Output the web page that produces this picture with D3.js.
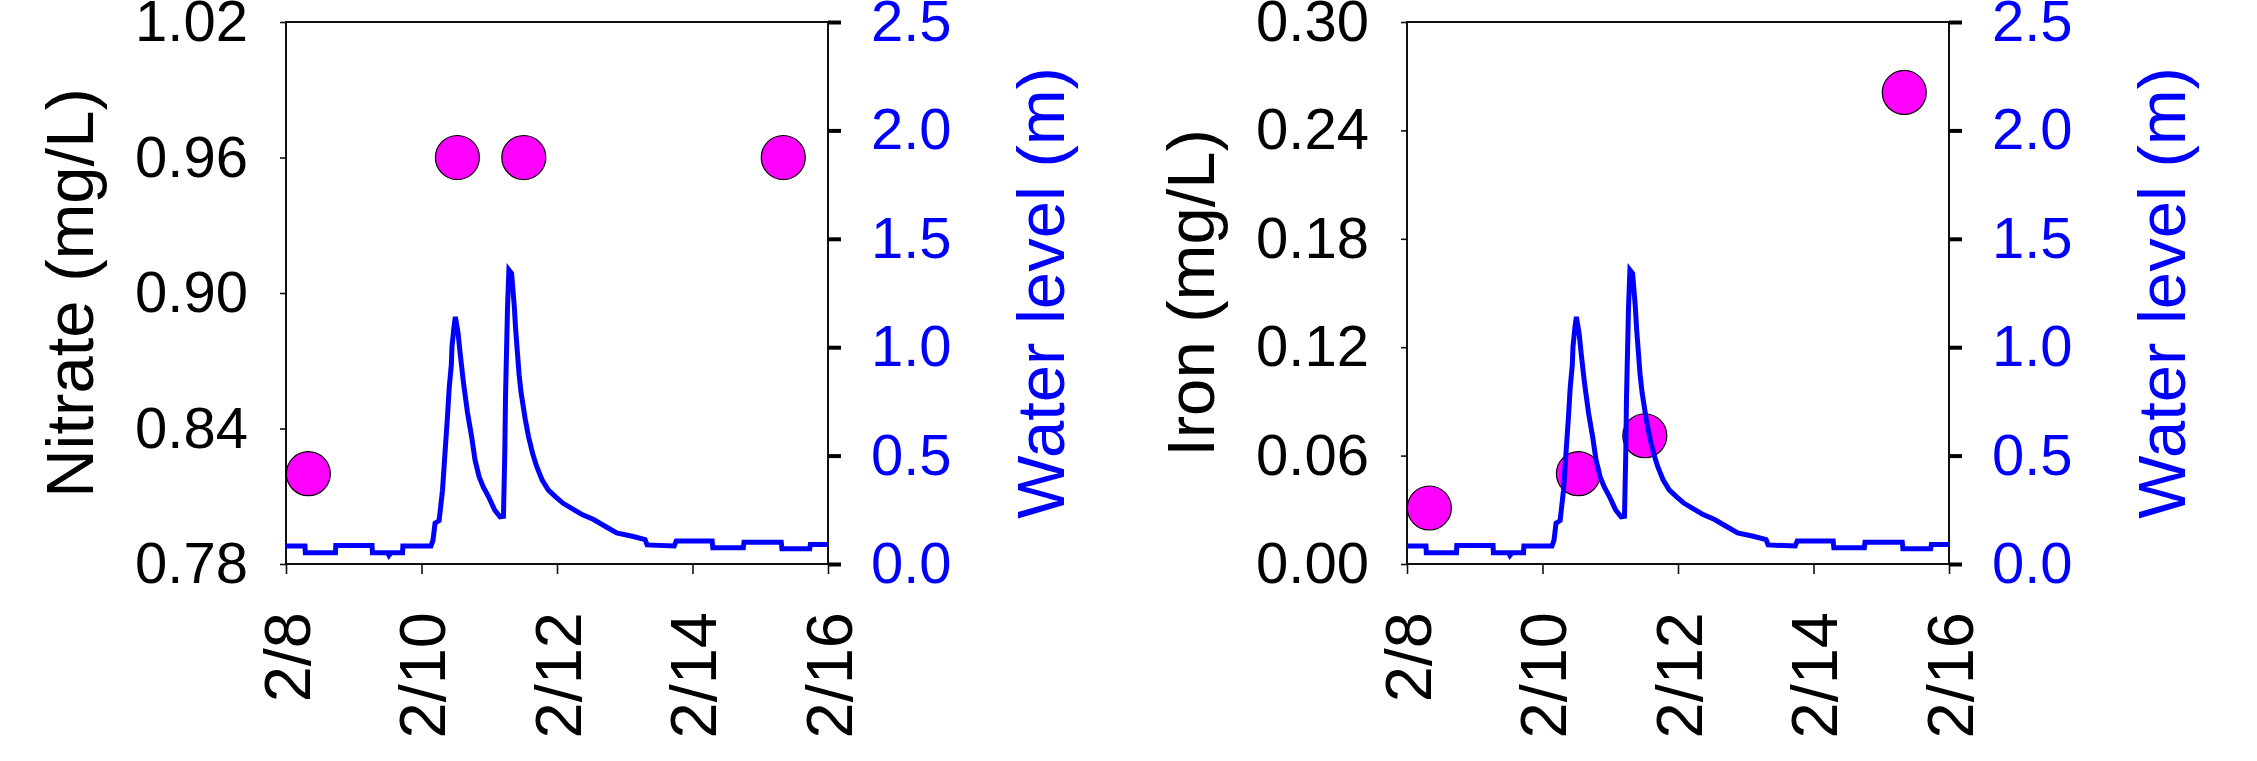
<!DOCTYPE html>
<html>
<head>
<meta charset="UTF-8">
<title>Nitrate / Iron vs water level</title>
<script src="https://d3js.org/d3.v7.min.js"></script>
<style>
  body { margin: 0; background: #fff; }
  svg { font-family: "Liberation Sans", Arial, sans-serif; }
  .frame { fill: none; stroke: #111; stroke-width: 2; }
  .axis path { display: none; }
  .axis line { stroke: #111; stroke-width: 1.6; }
  .axis.wl line { stroke: #000; stroke-width: 4; }
</style>
</head>
<body>
<svg id="chart" width="2257" height="761"></svg>
<script>
// ---- data ---------------------------------------------------------------
// x in days of February (8.5 = 2/8 noon)
var xTicks = [8, 10, 12, 14, 16];
var xTickLabels = ["2/8", "2/10", "2/12", "2/14", "2/16"];

var sampleDays = [8.33, 10.53, 11.51, 15.34];
var nitrate = [0.82, 0.96, 0.96, 0.96];
var iron = [0.031, 0.050, 0.071, 0.261];

var nitrateTicks = [0.78, 0.84, 0.90, 0.96, 1.02];
var ironTicks = [0.00, 0.06, 0.12, 0.18, 0.24, 0.30];
var levelTicks = [0.0, 0.5, 1.0, 1.5, 2.0, 2.5];

var levelDays = [8.00, 8.28, 8.285, 8.73, 8.735, 9.27, 9.275, 9.50, 9.52, 9.55, 9.72, 9.725,
  10.14, 10.17, 10.20, 10.26, 10.31, 10.35, 10.38, 10.41, 10.44, 10.45, 10.48, 10.50,
  10.54, 10.57, 10.62, 10.68, 10.74, 10.79, 10.85, 10.91, 10.99, 11.08, 11.16, 11.21,
  11.23, 11.24, 11.27, 11.29, 11.33, 11.37, 11.39, 11.44, 11.47, 11.53, 11.58, 11.64,
  11.70, 11.78, 11.87, 11.98, 12.09, 12.21, 12.37, 12.54, 12.71, 12.88, 13.11, 13.30,
  13.33, 13.73, 13.76, 14.29, 14.30, 14.75, 14.76, 15.31, 15.32, 15.73, 15.74, 16.00];
var levelM = [0.083, 0.083, 0.052, 0.052, 0.085, 0.085, 0.052, 0.052, 0.040, 0.052, 0.052, 0.083,
  0.083, 0.11, 0.188, 0.20, 0.34, 0.526, 0.664, 0.818, 0.918, 1.002, 1.095, 1.14,
  1.065, 0.973, 0.835, 0.696, 0.587, 0.48, 0.403, 0.357, 0.31, 0.249, 0.218, 0.22,
  0.526, 0.772, 1.187, 1.356, 1.34, 1.187, 1.08, 0.875, 0.79, 0.67, 0.587, 0.51,
  0.45, 0.388, 0.342, 0.31, 0.28, 0.258, 0.228, 0.205, 0.174, 0.143, 0.128, 0.113,
  0.088, 0.083, 0.106, 0.106, 0.075, 0.075, 0.10, 0.10, 0.07, 0.07, 0.09, 0.09];

// ---- layout -------------------------------------------------------------
var svg = d3.select("#chart");
var plotTop = 22, size = 542;

function panel(left, values, ticks, title) {
  var g = svg.append("g").attr("transform", "translate(" + left + "," + plotTop + ")");

  var x = d3.scaleLinear().domain([8, 16]).range([0, size]);
  var y = d3.scaleLinear().domain(d3.extent(ticks)).range([size, 0]);
  var y2 = d3.scaleLinear().domain([0, 2.5]).range([size, 0]);

  // frame
  g.append("rect").attr("class", "frame").attr("width", size).attr("height", size);

  // left axis
  g.append("g").attr("class", "axis")
    .call(d3.axisLeft(y).tickValues(ticks).tickFormat(d3.format(".2f"))
      .tickSize(6).tickPadding(32))
    .selectAll("text").attr("font-size", 58).attr("fill", "#000")
    .attr("font-family", "Liberation Sans, Arial, sans-serif");

  // right axis (water level)
  g.append("g").attr("class", "axis wl").attr("transform", "translate(" + size + ",0)")
    .call(d3.axisRight(y2).tickValues(levelTicks).tickFormat(d3.format(".1f"))
      .tickSize(13).tickPadding(30))
    .selectAll("text").attr("font-size", 58).attr("fill", "#0000ff")
    .attr("font-family", "Liberation Sans, Arial, sans-serif");

  // bottom axis
  g.append("g").attr("class", "axis").attr("transform", "translate(0," + size + ")")
    .call(d3.axisBottom(x).tickValues(xTicks).tickFormat(function (d, i) { return xTickLabels[i]; })
      .tickSize(10))
    .selectAll("text")
      .attr("font-size", 65).attr("fill", "#000")
      .attr("font-family", "Liberation Sans, Arial, sans-serif")
      .attr("text-anchor", "end")
      .attr("transform", "rotate(-90)")
      .attr("x", -48).attr("y", 0).attr("dy", "0.36em");

  // samples
  g.append("g").selectAll("circle")
    .data(sampleDays)
    .enter().append("circle")
      .attr("cx", function (d) { return x(d); })
      .attr("cy", function (d, i) { return y(values[i]); })
      .attr("r", 22)
      .attr("fill", "#ff00ff")
      .attr("stroke", "#000")
      .attr("stroke-width", 1.2);

  // water level
  var line = d3.line()
    .x(function (d) { return x(d); })
    .y(function (d, i) { return y2(levelM[i]); });
  g.append("path")
    .datum(levelDays)
    .attr("d", line)
    .attr("fill", "none")
    .attr("stroke", "#0000ff")
    .attr("stroke-width", 5)
    .attr("stroke-linejoin", "miter");

  // titles
  g.append("text")
    .attr("transform", "translate(-193," + size / 2 + ") rotate(-90)")
    .attr("text-anchor", "middle")
    .attr("font-size", 67)
    .attr("fill", "#000")
    .text(title);

  g.append("text")
    .attr("transform", "translate(" + (size + 236) + "," + size / 2 + ") rotate(-90)")
    .attr("text-anchor", "middle")
    .attr("font-size", 67)
    .attr("fill", "#0000ff")
    .text("Water level (m)");
}

panel(286, nitrate, nitrateTicks, "Nitrate (mg/L)");
panel(1407, iron, ironTicks, "Iron (mg/L)");
</script>
</body>
</html>
